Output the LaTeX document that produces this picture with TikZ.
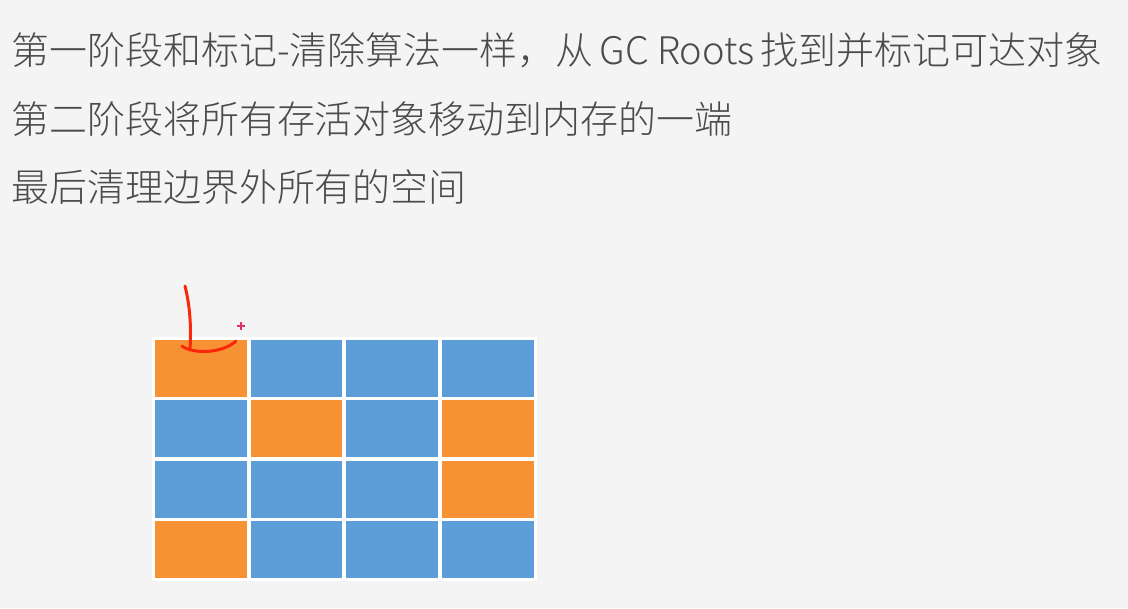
\documentclass[tikz,border=0pt]{standalone}
\usepackage{fontspec}
\setmainfont{Noto Sans CJK SC}[UprightFont=* Light]
\usepackage{tikz}
\usetikzlibrary{arrows.meta}

\definecolor{bgcol}{RGB}{244,244,244}
\definecolor{txtcol}{RGB}{75,75,75}
\definecolor{livecol}{RGB}{247,146,52}
\definecolor{freecol}{RGB}{93,157,216}
\definecolor{penred}{RGB}{250,40,10}
\definecolor{pluscol}{RGB}{225,50,100}

\begin{document}
\begin{tikzpicture}[x=0.02cm, y=-0.02cm]
			\tikzstyle{line}=[anchor=west,inner sep=0pt,text=txtcol,font=\fontsize{21.6pt}{26pt}\selectfont]
			\tikzstyle{cell}=[draw=none,inner sep=0pt,minimum width=1.84cm,minimum height=1.14cm]
			\fill [bgcol] (0,0) rectangle (1128,608);
			\useasboundingbox (0,0) rectangle (1128,608);
				\node [line] (l1) at (11,50) {第一阶段和标记-清除算法一样，从\,GC Roots\,找到并标记可达对象};
				\node [line] (l2) at (11,119) {第二阶段将所有存活对象移动到内存的一端};
				\node [line] (l3) at (11,187) {最后清理边界外所有的空间};
				% memory blocks
				\fill [white] (152,337) rectangle (537,581);
				\foreach \r/\row in {1/{livecol,freecol,freecol,freecol},2/{freecol,livecol,freecol,livecol},3/{freecol,freecol,freecol,livecol},4/{livecol,freecol,freecol,freecol}}
				{
					\foreach \c [count=\k] in \row
					{
						\node [cell,fill=\c] (c\r\k) at ({201+95.5*(\k-1)},{368.5+60.3*(\r-1)}) {};
					}
				}
				% pen marks
				\draw [penred,line width=1.7pt,line cap=round] (185,286) .. controls (191,310) and (191,332) .. (190,350);
				\draw [penred,line width=1.7pt,line cap=round] (182,346) .. controls (192,354) and (222,354) .. (236,341);
				\draw [pluscol,line width=0.6pt] (237,326) -- (245,326) (241,322) -- (241,330);
	\end{tikzpicture}
\end{document}
